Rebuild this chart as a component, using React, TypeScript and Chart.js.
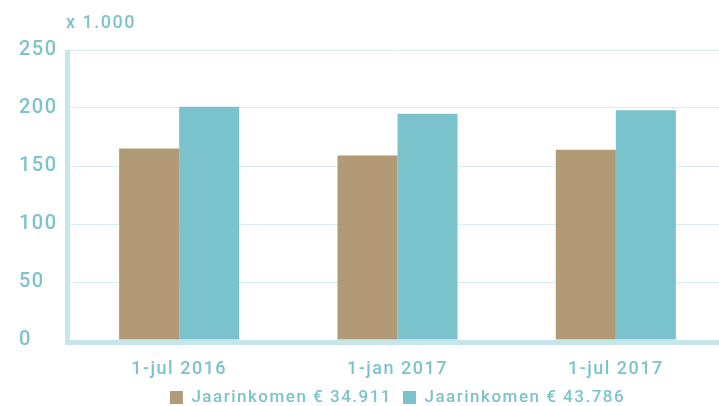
import React, { useEffect, useRef } from "react";
import { Chart, registerables } from "chart.js";

Chart.register(...registerables);

const categories = ["1-jul 2016", "1-jan 2017", "1-jul 2017"];
const seriesLow = [165, 159, 164];
const seriesHigh = [201, 195, 198];
const seriesNames = ["Jaarinkomen € 34.911", "Jaarinkomen € 43.786"];
const unitLabel = "x 1.000";

const TEAL_TEXT = "#7cc3cb";
const TAN = "#b39a76";
const TEAL = "#7bc3cc";
const BORDER = "#c6e6eb";
const GRID = "#d8eef2";
const FONT = "Roboto";

export default function App() {
  const ref = useRef<HTMLCanvasElement | null>(null);

  useEffect(() => {
    document.body.style.margin = "0";
    if (!ref.current) return;

    const spacingPlugin = {
      id: "spacing",
      beforeUpdate(chart: any) {
        chart.ctx.letterSpacing = "1.5px";
      },
      beforeDraw(chart: any) {
        chart.ctx.letterSpacing = "1.5px";
      },
    };

    const framePlugin = {
      id: "frame",
      afterDatasetsDraw(chart: any) {
        const { ctx, chartArea } = chart;
        const { left, right, top, bottom } = chartArea;
        ctx.save();
        ctx.fillStyle = BORDER;
        ctx.fillRect(left - 5, top, 5, bottom - top + 5);
        ctx.fillRect(left - 5, bottom, right - left + 5, 5);
        ctx.restore();
      },
      afterDraw(chart: any) {
        const { ctx, chartArea } = chart;
        ctx.save();
        ctx.letterSpacing = "1.5px";
        ctx.font = `500 18px ${FONT}`;
        ctx.fillStyle = TEAL_TEXT;
        ctx.textAlign = "left";
        ctx.textBaseline = "middle";
        ctx.fillText(unitLabel, chartArea.left - 4, 23);
        ctx.restore();
      },
    };

    const chart = new Chart(ref.current, {
      type: "bar",
      data: {
        labels: categories,
        datasets: [
          {
            label: seriesNames[0],
            data: seriesLow,
            backgroundColor: TAN,
            borderWidth: 0,
            categoryPercentage: 0.55,
            barPercentage: 1,
          },
          {
            label: seriesNames[1],
            data: seriesHigh,
            backgroundColor: TEAL,
            borderWidth: 0,
            categoryPercentage: 0.55,
            barPercentage: 1,
          },
        ],
      },
      plugins: [spacingPlugin, framePlugin],
      options: {
        animation: false,
        responsive: true,
        maintainAspectRatio: false,
        layout: { padding: { top: 50, left: 19, right: 0, bottom: -10 } },
        plugins: {
          tooltip: { enabled: false },
          title: { display: false },
          legend: {
            display: true,
            position: "bottom",
            fullSize: false,
            labels: {
              color: TEAL_TEXT,
              font: { family: FONT, size: 17, weight: "500" },
              boxWidth: 13,
              boxHeight: 13,
              padding: 11,
            },
          },
        },
        scales: {
          x: {
            grid: { display: false, drawTicks: false },
            border: { display: false },
            ticks: {
              color: TEAL_TEXT,
              font: { family: FONT, size: 18, weight: "500" },
              padding: 19,
              maxRotation: 0,
              autoSkip: false,
            },
            afterFit(scale: any) {
              scale.height = 38;
            },
          },
          y: {
            min: 0,
            max: 250,
            grid: { color: GRID, lineWidth: 1, drawTicks: false },
            border: { display: false },
            ticks: {
              stepSize: 50,
              color: TEAL_TEXT,
              font: { family: FONT, size: 20, weight: "500" },
              crossAlign: "far",
              padding: 13,
            },
            afterFit(scale: any) {
              scale.width = 51;
            },
          },
        },
      },
    });

    return () => chart.destroy();
  }, []);

  return (
    <div style={{ width: 719, height: 406, overflow: "hidden" }}>
      <div style={{ position: "relative", width: 725, height: 406 }}>
        <canvas ref={ref} />
      </div>
    </div>
  );
}
